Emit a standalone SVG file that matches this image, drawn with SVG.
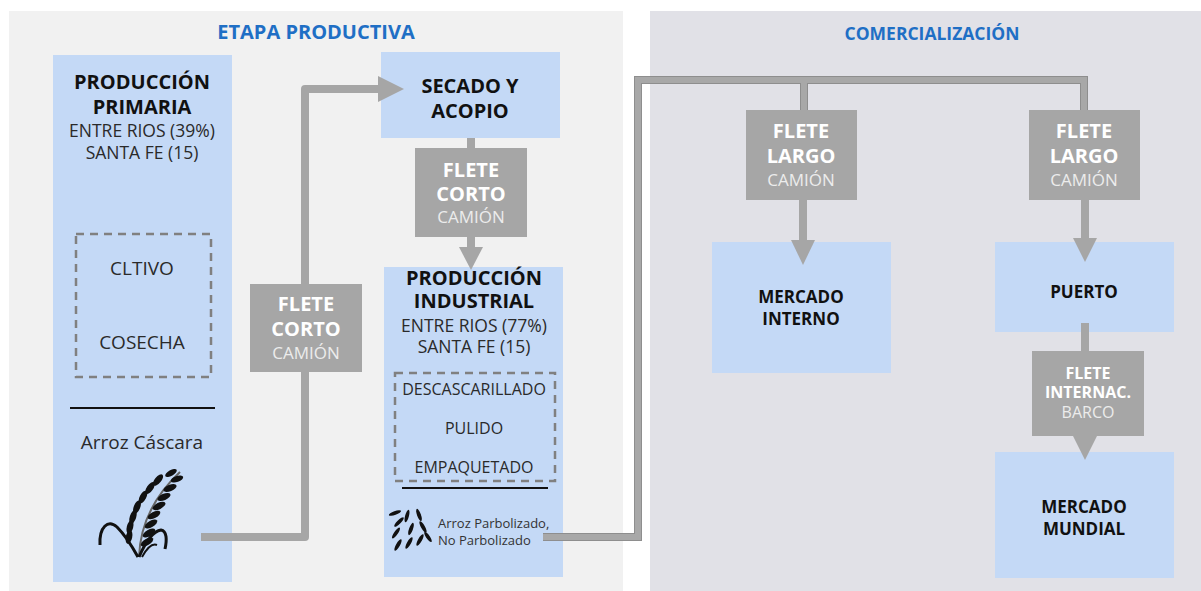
<svg xmlns="http://www.w3.org/2000/svg" width="1201" height="591" viewBox="0 0 1201 591">
<style>
text{font-family:"Open Sans","Liberation Sans",sans-serif;text-anchor:middle}
.node{fill:#c4d9f6}
.gbox{fill:#a6a6a6}
.h{font-weight:700;fill:#111;font-size:20px}
.hs{font-weight:700;fill:#111;font-size:17px}
.sub{fill:#2a2a2a;font-size:17.5px}
.sub19{fill:#2a2a2a;font-size:19px}
.sub16{fill:#2a2a2a;font-size:16px}
.fw{font-weight:700;fill:#fff;font-size:20px}
.fl{fill:#ececec;font-size:17px}
.fw16{font-weight:700;fill:#fff;font-size:16px}
.fl16{fill:#ececec;font-size:16px}
.dash{fill:none;stroke:#808080;stroke-width:2.5;stroke-dasharray:8 6}
.title{font-weight:700;fill:#1f6fc5}
.conn{fill:none;stroke:#a6a6a6;stroke-width:8;stroke-linejoin:round}
.connO{fill:none;stroke:#8e8e8e;stroke-width:8;stroke-linejoin:miter}
.connI{fill:none;stroke:#a8a8a8;stroke-width:6;stroke-linejoin:miter}
.ah{fill:#a6a6a6}
.k{fill:#111}
</style>
<rect width="1201" height="591" fill="#ffffff"/>
<g id="panel-productiva">
<rect x="9" y="11" width="614" height="580" fill="#f1f1f1"/>
<text class="title" x="316" y="39" style="font-size:20px">ETAPA PRODUCTIVA</text>
</g>
<g id="panel-comercializacion">
<rect x="650" y="11" width="551" height="580" fill="#e1e1e7"/>
<text class="title" x="932" y="40" style="font-size:17.5px">COMERCIALIZACIÓN</text>
</g>
<g id="produccion-primaria">
<rect class="node" x="53" y="55" width="179" height="527"/>
<text class="h" x="142" y="89">PRODUCCIÓN</text>
<text class="h" x="142" y="114">PRIMARIA</text>
<text class="sub" x="142" y="137">ENTRE RIOS (39%)</text>
<text class="sub" x="142" y="159">SANTA FE (15)</text>
<rect class="dash" x="76" y="234" width="135" height="143"/>
<text class="sub19" x="142" y="275">CLTIVO</text>
<text class="sub19" x="142" y="349">COSECHA</text>
<line x1="70" y1="408" x2="215" y2="408" stroke="#111" stroke-width="2"/>
<text class="sub19" x="142" y="449">Arroz Cáscara</text>
<g id="wheat-icon">
<path d="M139,557 C140,530 150,500 180,472" fill="none" stroke="#666" stroke-width="2"/>
<g class="k">
<ellipse cx="147" cy="542" rx="7" ry="3.2" transform="rotate(-30 147 542)"/>
<ellipse cx="149" cy="533" rx="7" ry="3.2" transform="rotate(-30 149 533)"/>
<ellipse cx="151" cy="524" rx="7" ry="3.2" transform="rotate(-30 151 524)"/>
<ellipse cx="154" cy="515" rx="7" ry="3.2" transform="rotate(-28 154 515)"/>
<ellipse cx="159" cy="506" rx="7" ry="3.2" transform="rotate(-26 159 506)"/>
<ellipse cx="164" cy="497" rx="7" ry="3.2" transform="rotate(-24 164 497)"/>
<ellipse cx="170" cy="488" rx="7" ry="3.2" transform="rotate(-22 170 488)"/>
<ellipse cx="177" cy="479" rx="6.5" ry="3" transform="rotate(-20 177 479)"/>
<ellipse cx="129" cy="537" rx="7" ry="3.2" transform="rotate(-78 129 537)"/>
<ellipse cx="130" cy="527" rx="7" ry="3.2" transform="rotate(-76 130 527)"/>
<ellipse cx="133" cy="517" rx="7" ry="3.2" transform="rotate(-72 133 517)"/>
<ellipse cx="137" cy="507" rx="7" ry="3.2" transform="rotate(-68 137 507)"/>
<ellipse cx="143" cy="497" rx="7" ry="3.2" transform="rotate(-62 143 497)"/>
<ellipse cx="150" cy="488" rx="7" ry="3.2" transform="rotate(-56 150 488)"/>
<ellipse cx="158" cy="480" rx="7" ry="3.2" transform="rotate(-50 158 480)"/>
<ellipse cx="171" cy="473" rx="6.5" ry="2.8" transform="rotate(-30 171 473)"/>
</g>
<path d="M100,545 C99,527 108,519 117,527 C126,536 133,548 138,557" fill="none" stroke="#111" stroke-width="3"/>
<path d="M139,557 C146,541 154,531 161,530 C167,531 167,540 165,549" fill="none" stroke="#111" stroke-width="3"/>
<path d="M142,557 C147,548 152,543 157,545" fill="none" stroke="#111" stroke-width="2"/>
</g>
</g>
<g id="secado-acopio">
<rect class="node" x="381" y="52" width="179" height="86"/>
<text class="h" x="470" y="93">SECADO Y</text>
<text class="h" x="470" y="118">ACOPIO</text>
</g>
<g id="produccion-industrial">
<rect class="node" x="384" y="267" width="179" height="310"/>
<text class="h" x="474" y="285">PRODUCCIÓN</text>
<text class="h" x="474" y="308">INDUSTRIAL</text>
<text class="sub" x="474" y="332">ENTRE RIOS (77%)</text>
<text class="sub" x="474" y="353">SANTA FE (15)</text>
<rect class="dash" x="395" y="373" width="160" height="108"/>
<text class="sub16" x="474" y="395">DESCASCARILLADO</text>
<text class="sub16" x="474" y="434">PULIDO</text>
<text class="sub16" x="474" y="473">EMPAQUETADO</text>
<line x1="402" y1="488" x2="548" y2="488" stroke="#111" stroke-width="2"/>
<g id="rice-icon" class="k">
<ellipse cx="395" cy="513" rx="6.5" ry="1.9" transform="rotate(-20 395 513)"/>
<ellipse cx="399" cy="522" rx="6.5" ry="1.9" transform="rotate(-45 399 522)"/>
<ellipse cx="396" cy="533" rx="6.5" ry="1.9" transform="rotate(-55 396 533)"/>
<ellipse cx="398" cy="545" rx="6.5" ry="1.9" transform="rotate(-60 398 545)"/>
<ellipse cx="407" cy="516" rx="6.5" ry="1.9" transform="rotate(-75 407 516)"/>
<ellipse cx="411" cy="529" rx="6.5" ry="1.9" transform="rotate(-70 411 529)"/>
<ellipse cx="409" cy="543" rx="6.5" ry="1.9" transform="rotate(-60 409 543)"/>
<ellipse cx="419" cy="515" rx="6.5" ry="1.9" transform="rotate(70 419 515)"/>
<ellipse cx="423" cy="527" rx="6.5" ry="1.9" transform="rotate(60 423 527)"/>
<ellipse cx="420" cy="540" rx="6.5" ry="1.9" transform="rotate(-60 420 540)"/>
<ellipse cx="428" cy="537" rx="6" ry="1.9" transform="rotate(55 428 537)"/>
</g>
<text x="438" y="528" fill="#333" style="text-anchor:start;font-size:13px">Arroz Parbolizado,</text>
<text x="438" y="545" fill="#333" style="text-anchor:start;font-size:13px">No Parbolizado</text>
</g>
<g id="mercado-interno">
<rect class="node" x="712" y="242" width="179" height="131"/>
<text class="hs" x="801" y="303">MERCADO</text>
<text class="hs" x="801" y="325">INTERNO</text>
</g>
<g id="puerto">
<rect class="node" x="995" y="242" width="179" height="90"/>
<text class="hs" x="1084" y="298">PUERTO</text>
</g>
<g id="mercado-mundial">
<rect class="node" x="995" y="452" width="179" height="126"/>
<text class="hs" x="1084" y="513">MERCADO</text>
<text class="hs" x="1084" y="535">MUNDIAL</text>
</g>
<g id="connectors">
<path class="conn" d="M201,537 H305 V89 H380"/>
<polygon class="ah" points="378,76 404,89 378,102"/>
<line class="conn" x1="471" y1="138" x2="471" y2="150"/>
<line class="conn" x1="471" y1="235" x2="471" y2="248"/>
<polygon class="ah" points="459,247 483,247 471,270"/>
<path class="connO" d="M543,537 H638 V80 H1084 V112 M804,80 V112"/>
<path class="connI" d="M543,537 H638 V80 H1084 V112 M804,80 V112"/>
<line class="conn" x1="803" y1="198" x2="803" y2="242"/>
<polygon class="ah" points="791,240 815,240 803,265"/>
<line class="conn" x1="1085" y1="198" x2="1085" y2="240"/>
<polygon class="ah" points="1073,238 1097,238 1085,262"/>
<line class="conn" x1="1085" y1="323" x2="1085" y2="353"/>
<polygon class="ah" points="1073,436 1097,436 1085,460"/>
</g>
<g id="flete-corto-1">
<rect class="gbox" x="250" y="284" width="112" height="88"/>
<text class="fw" x="306" y="311">FLETE</text>
<text class="fw" x="306" y="336">CORTO</text>
<text class="fl" x="306" y="359">CAMIÓN</text>
</g>
<g id="flete-corto-2">
<rect class="gbox" x="415" y="148" width="112" height="89"/>
<text class="fw" x="471" y="177">FLETE</text>
<text class="fw" x="471" y="201">CORTO</text>
<text class="fl" x="471" y="223">CAMIÓN</text>
</g>
<g id="flete-largo-1">
<rect class="gbox" x="746" y="110" width="111" height="90"/>
<text class="fw" x="801" y="138">FLETE</text>
<text class="fw" x="801" y="163">LARGO</text>
<text class="fl" x="801" y="186">CAMIÓN</text>
</g>
<g id="flete-largo-2">
<rect class="gbox" x="1029" y="110" width="111" height="90"/>
<text class="fw" x="1084" y="138">FLETE</text>
<text class="fw" x="1084" y="163">LARGO</text>
<text class="fl" x="1084" y="186">CAMIÓN</text>
</g>
<g id="flete-internac">
<rect class="gbox" x="1032" y="351" width="112" height="85"/>
<text class="fw16" x="1088" y="379">FLETE</text>
<text class="fw16" x="1088" y="398">INTERNAC.</text>
<text class="fl16" x="1088" y="418">BARCO</text>
</g>
</svg>
